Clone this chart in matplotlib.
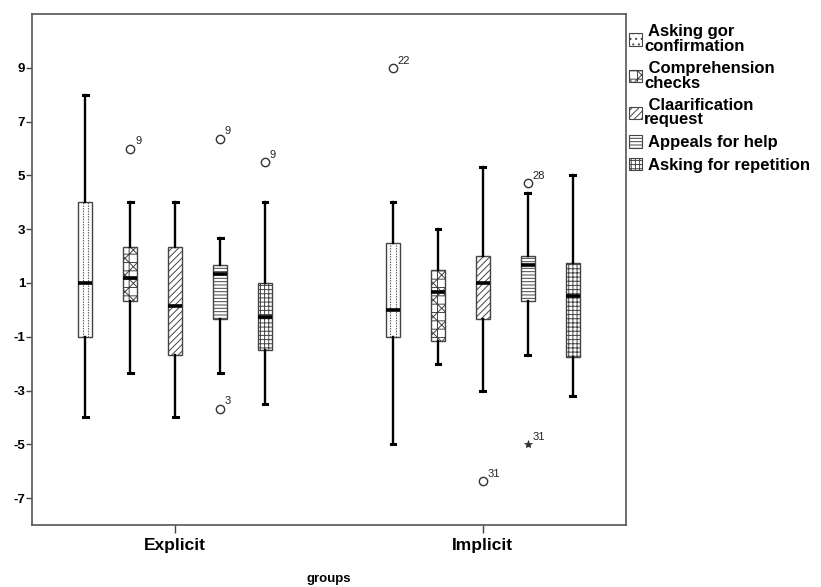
import matplotlib.pyplot as plt
from matplotlib.patches import Patch
import numpy as np

plt.rcParams['font.family'] = ['Liberation Sans', 'DejaVu Sans']
plt.rcParams['hatch.linewidth'] = 0.7

groups = ['Explicit', 'Implicit']
strategies = [' Asking gor\nconfirmation', ' Comprehension\nchecks', ' Claarification\nrequest',
              ' Appeals for help', ' Asking for repetition']
hatches = ['', '++xx', '/////', '-----', '++++']
legend_hatches = ['...', '++xx', '/////', '-----', '++++']

# box statistics per group, one value per strategy
whislo = {'Explicit': [-4, -2.33, -4, -2.33, -3.5],
          'Implicit': [-5, -2.0, -3, -1.67, -3.2]}
q1 = {'Explicit': [-1, 0.33, -1.67, -0.33, -1.5],
      'Implicit': [-1, -1.17, -0.33, 0.33, -1.75]}
med = {'Explicit': [1, 1.18, 0.16, 1.33, -0.25],
       'Implicit': [0.0, 0.67, 1.0, 1.67, 0.5]}
q3 = {'Explicit': [4, 2.33, 2.33, 1.67, 1.0],
      'Implicit': [2.5, 1.5, 2.0, 2.0, 1.75]}
whishi = {'Explicit': [8, 4, 4, 2.67, 4],
          'Implicit': [4, 3, 5.33, 4.33, 5.0]}

# outliers: (group, strategy index, value, case label, marker)
outliers = [('Explicit', 1, 6.0, '9', 'o'),
            ('Explicit', 3, 6.37, '9', 'o'),
            ('Explicit', 3, -3.67, '3', 'o'),
            ('Explicit', 4, 5.5, '9', 'o'),
            ('Implicit', 0, 9.0, '22', 'o'),
            ('Implicit', 2, -6.36, '31', 'o'),
            ('Implicit', 3, 4.7, '28', 'o'),
            ('Implicit', 3, -5.0, '31', '*')]

fig = plt.figure(figsize=(8.21, 5.87), dpi=100)
ax = fig.add_axes([0.039, 0.1056, 0.7235, 0.8704])

offsets = (np.arange(len(strategies)) - 2) * 0.146
width = 0.044

for gi, g in enumerate(groups):
    for si in range(len(strategies)):
        stats = [dict(whislo=whislo[g][si], q1=q1[g][si], med=med[g][si],
                      q3=q3[g][si], whishi=whishi[g][si], fliers=[])]
        pos = gi + offsets[si]
        ax.bxp(stats, positions=[pos], widths=width,
               patch_artist=True, showfliers=False, manage_ticks=False,
               boxprops=dict(facecolor='white', edgecolor='#444444',
                             linewidth=1.0, hatch=hatches[si]),
               medianprops=dict(color='black', linewidth=2.6, zorder=4),
               whiskerprops=dict(color='black', linewidth=1.7),
               capprops=dict(color='black', linewidth=2.2),
               capwidths=0.016)
        if si == 0:
            # dotted vertical fill of the first strategy
            ax.vlines([pos - width / 5, pos + width / 5], q1[g][si], q3[g][si],
                      colors='#555555', linestyles=(0, (1.2, 1.2)), linewidth=0.8, zorder=3)

for g, si, val, lab, mk in outliers:
    x = groups.index(g) + offsets[si]
    if mk == 'o':
        ax.plot(x, val, marker='o', ms=6, mfc='white', mec='#333333', mew=1.0)
    else:
        ax.plot(x, val, marker='*', ms=6, color='#333333', mew=0.5)
    ax.annotate(lab, xy=(x, val), xytext=(3.5, 3), textcoords='offset points',
                fontsize=8, color='#222222')

ax.set_xlim(-0.465, 1.465)
ax.set_ylim(-8, 11)
ax.set_yticks([-7, -5, -3, -1, 1, 3, 5, 7, 9])
ax.set_yticklabels(['-7', '-5', '-3', '-1', '1', '3', '5', '7', '9'],
                   fontsize=9.5, fontweight='bold')
ax.set_xticks([0, 1])
ax.set_xticklabels(groups, fontsize=12.5, fontweight='bold')
ax.tick_params(axis='y', length=4, width=1, pad=1, direction='out', color='#444444')
ax.tick_params(axis='x', length=6, width=1, pad=3, direction='out', color='#444444')
ax.set_xlabel('groups', fontsize=9.5, fontweight='bold', labelpad=15)
for sp in ax.spines.values():
    sp.set_color('#555555')
    sp.set_linewidth(1.2)

handles = [Patch(facecolor='white', edgecolor='#444444', hatch=h, linewidth=0.8)
           for h in legend_hatches]
leg = ax.legend(handles, strategies, loc='upper left', bbox_to_anchor=(1.0, 0.985),
                frameon=False, prop=dict(weight='bold', size=12),
                handlelength=0.8, handleheight=0.8, handletextpad=0.15,
                labelspacing=0.45, borderaxespad=0.1, borderpad=0.05)
for t in leg.get_texts():
    t.set_linespacing(0.95)

fig.savefig('out.png', dpi=100, facecolor='white')
